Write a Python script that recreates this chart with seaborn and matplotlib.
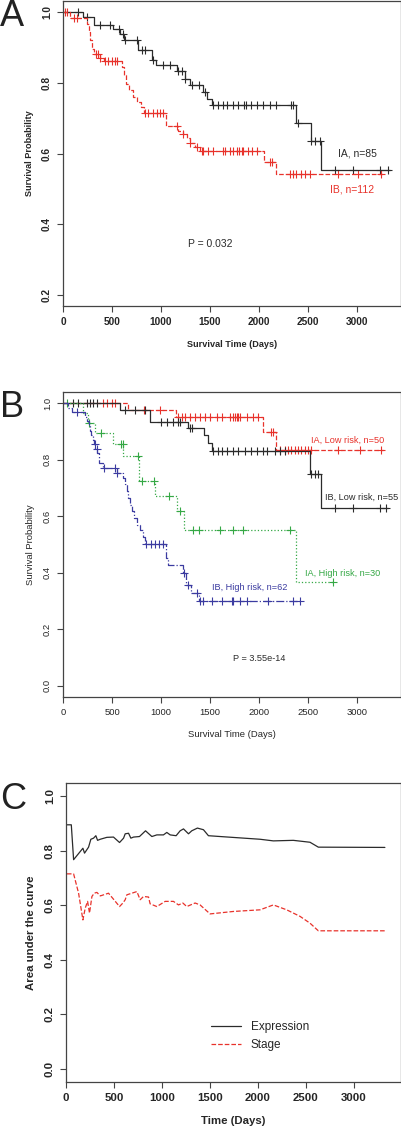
import numpy as np
import matplotlib
matplotlib.use("Agg")
import matplotlib.pyplot as plt
import seaborn as sns

sns.set_style("ticks")
plt.rcParams["font.family"] = ["Liberation Sans", "DejaVu Sans"]

RED = "#e8322b"
BLACK = "#2b2b2b"
GREEN = "#35a845"
BLUE = "#3b3ba0"

#%% Panel A: stage IA vs IB
a_ia_ev_t = [207, 320, 514, 582, 626, 769, 905, 949, 1160, 1245, 1296, 1432, 1473, 1517, 2384, 2530, 2632]
a_ia_ev_s = [0.988, 0.965, 0.954, 0.939, 0.922, 0.894, 0.864, 0.850, 0.833, 0.812, 0.793, 0.774, 0.755, 0.738, 0.686, 0.635, 0.554]
a_ia_end = 3336
a_ia_cens = [150, 248, 378, 480, 575, 609, 633, 752, 803, 837, 922, 1024, 1092, 1177, 1211, 1245, 1313, 1391,
             1449, 1534, 1585, 1629, 1670, 1738, 1789, 1850, 1867, 1915, 1976, 2044, 2112, 2180, 2333, 2350,
             2401, 2537, 2571, 2622, 2775, 2962, 3234, 3319]

a_ib_ev_t = [71, 248, 262, 276, 296, 320, 377, 418, 599, 622, 643, 677, 718, 758, 792, 826, 1048, 1177, 1228,
             1262, 1296, 1347, 1398, 2051, 2180]
a_ib_ev_s = [0.984, 0.968, 0.944, 0.921, 0.897, 0.883, 0.871, 0.861, 0.845, 0.824, 0.798, 0.779, 0.760, 0.746,
             0.731, 0.714, 0.679, 0.665, 0.656, 0.644, 0.629, 0.618, 0.607, 0.577, 0.541]
a_ib_end = 3268
a_ib_cens = [20, 37, 112, 139, 337, 360, 378, 429, 463, 497, 531, 554, 837, 871, 922, 956, 990, 1024, 1160,
             1228, 1296, 1364, 1415, 1432, 1483, 1534, 1636, 1653, 1704, 1738, 1779, 1799, 1823, 1840, 1891,
             1925, 1976, 2112, 2139, 2316, 2350, 2384, 2435, 2469, 2520, 2809, 3013, 3251]

#%% Panel B: stage x risk
b_ial_ev_t = [660, 1153, 2044, 2180]
b_ial_ev_s = [0.978, 0.953, 0.900, 0.835]
b_ial_end = 3268
b_ial_cens = [412, 446, 497, 531, 830, 990, 1177, 1211, 1245, 1296, 1347, 1398, 1449, 1500, 1568, 1619, 1704,
              1738, 1755, 1772, 1789, 1806, 1874, 1942, 1993, 2129, 2146, 2214, 2265, 2299, 2333, 2367, 2401,
              2435, 2469, 2503, 2537, 2809, 3030, 3251]

b_ibl_ev_t = [583, 889, 1281, 1441, 1485, 1519, 2524, 2637]
b_ibl_ev_s = [0.978, 0.935, 0.912, 0.888, 0.859, 0.832, 0.751, 0.629]
b_ibl_end = 3319
b_ibl_cens = [105, 156, 248, 275, 310, 343, 633, 735, 837, 1000, 1058, 1126, 1177, 1194, 1296, 1313, 1534,
              1585, 1619, 1670, 1738, 1789, 1857, 1915, 1976, 2044, 2078, 2163, 2214, 2265, 2537, 2571, 2605,
              2775, 2962, 3234, 3302]

b_iah_ev_t = [207, 258, 327, 514, 616, 779, 939, 1160, 1235, 2384]
b_iah_ev_s = [0.965, 0.929, 0.894, 0.856, 0.812, 0.724, 0.673, 0.618, 0.553, 0.366]
b_iah_end = 2758
b_iah_cens = [37, 262, 388, 588, 609, 762, 803, 929, 1085, 1194, 1330, 1391, 1599, 1738, 1840, 2316, 2755]

b_ibh_ev_t = [54, 88, 224, 248, 262, 275, 289, 303, 316, 330, 344, 364, 412, 548, 609, 633, 650, 667, 684,
              701, 724, 752, 786, 813, 837, 1051, 1075, 1221, 1255, 1303, 1391]
b_ibh_ev_s = [0.984, 0.968, 0.952, 0.936, 0.919, 0.903, 0.887, 0.871, 0.855, 0.839, 0.823, 0.790, 0.770, 0.753,
              0.735, 0.714, 0.690, 0.666, 0.640, 0.617, 0.594, 0.570, 0.550, 0.525, 0.503, 0.452, 0.428, 0.400,
              0.356, 0.330, 0.301]
b_ibh_end = 2435
b_ibh_cens = [139, 326, 343, 422, 531, 554, 850, 894, 939, 983, 1024, 1238, 1272, 1364, 1398, 1432, 1524, 1619,
              1721, 1738, 1806, 1881, 2095, 2350, 2418]

#%% Panel C: time-dependent AUC
c_expr_t = [10, 56, 80, 177, 194, 236, 260, 288, 312, 330, 358, 427, 496, 559, 601, 618, 653, 677, 705, 767,
            830, 896, 948, 1017, 1052, 1087, 1149, 1191, 1226, 1278, 1312, 1371, 1434, 1486, 1608, 1816, 2024,
            2163, 2371, 2545, 2632, 3326]
c_expr_auc = [0.896, 0.896, 0.768, 0.810, 0.792, 0.814, 0.843, 0.847, 0.856, 0.839, 0.843, 0.850, 0.851, 0.831,
              0.847, 0.863, 0.865, 0.847, 0.851, 0.853, 0.874, 0.853, 0.859, 0.859, 0.868, 0.859, 0.856, 0.874,
              0.881, 0.863, 0.874, 0.884, 0.878, 0.856, 0.853, 0.848, 0.843, 0.837, 0.839, 0.832, 0.814, 0.813]
c_stage_t = [10, 80, 132, 177, 201, 226, 246, 271, 295, 323, 358, 444, 496, 559, 594, 618, 635, 687, 740, 774,
             809, 861, 878, 948, 1035, 1121, 1174, 1219, 1260, 1347, 1399, 1503, 1746, 2024, 2163, 2302, 2441,
             2545, 2632, 3326]
c_stage_auc = [0.716, 0.716, 0.645, 0.547, 0.590, 0.615, 0.572, 0.633, 0.645, 0.648, 0.635, 0.645, 0.623, 0.596,
               0.609, 0.621, 0.639, 0.645, 0.651, 0.621, 0.633, 0.631, 0.606, 0.596, 0.615, 0.615, 0.602, 0.609,
               0.596, 0.609, 0.602, 0.569, 0.578, 0.584, 0.602, 0.584, 0.560, 0.535, 0.507, 0.507]

x_ticks = [0, 500, 1000, 1500, 2000, 2500, 3000]


#%%
def km_curve(ax, ev_t, ev_s, end_t, cens_t, color, ls):
    t = [0] + ev_t + [end_t]
    s = [1.0] + ev_s + [ev_s[-1]]
    sns.lineplot(x=t, y=s, drawstyle="steps-post", color=color, linestyle=ls, lw=0.9,
                 estimator=None, sort=False, ax=ax)
    idx = np.searchsorted(ev_t, cens_t, side="right")
    cy = np.r_[1.0, ev_s][idx]
    sns.scatterplot(x=cens_t, y=cy, marker="+", s=30, color=color, linewidth=0.8, ax=ax)


def style_axes(ax, yticks, ylim, xlim, xlabel, ylabel, weight, fs, lfs):
    ax.set_xlim(*xlim)
    ax.set_ylim(*ylim)
    ax.set_xticks(x_ticks)
    ax.set_yticks(yticks)
    ax.set_xticklabels([str(v) for v in x_ticks], fontsize=fs, fontweight=weight)
    ax.set_yticklabels([f"{v:.1f}" for v in yticks], fontsize=fs, fontweight=weight,
                       rotation=90, va="center")
    ax.tick_params(length=4, width=0.8, color="#444444", pad=4)
    for sp in ax.spines.values():
        sp.set_visible(True)
        sp.set_color("#444444")
        sp.set_linewidth(0.9)
    ax.set_xlabel(xlabel, fontsize=lfs, fontweight=weight, labelpad=9)
    ax.set_ylabel(ylabel, fontsize=lfs, fontweight=weight, labelpad=6)


fig = plt.figure(figsize=(4.02, 11.29), dpi=100)

#%% A
axA = fig.add_axes([0.157, 0.729, 0.840, 0.270])
km_curve(axA, a_ia_ev_t, a_ia_ev_s, a_ia_end, a_ia_cens, BLACK, "-")
km_curve(axA, a_ib_ev_t, a_ib_ev_s, a_ib_end, a_ib_cens, RED, "--")
style_axes(axA, [0.2, 0.4, 0.6, 0.8, 1.0], (0.168, 1.032), (0, 3450),
           "Survival Time (Days)", "Survival Probability", "bold", 7.3, 6.6)
axA.text(3005, 0.600, "IA, n=85", color=BLACK, fontsize=7.5, ha="center", va="center")
axA.text(2950, 0.497, "IB, n=112", color=RED, fontsize=7.5, ha="center", va="center")
axA.text(1503, 0.345, "P = 0.032", color=BLACK, fontsize=7.5, ha="center", va="center")

#%% B
axB = fig.add_axes([0.157, 0.3826, 0.840, 0.2702])
km_curve(axB, b_ial_ev_t, b_ial_ev_s, b_ial_end, b_ial_cens, RED, "--")
km_curve(axB, b_ibl_ev_t, b_ibl_ev_s, b_ibl_end, b_ibl_cens, BLACK, "-")
km_curve(axB, b_iah_ev_t, b_iah_ev_s, b_iah_end, b_iah_cens, GREEN, ":")
km_curve(axB, b_ibh_ev_t, b_ibh_ev_s, b_ibh_end, b_ibh_cens, BLUE, "-.")
style_axes(axB, [0.0, 0.2, 0.4, 0.6, 0.8, 1.0], (-0.04, 1.04), (0, 3450),
           "Survival Time (Days)", "Survival Probability", "normal", 6.8, 6.8)
axB.text(2907, 0.868, "IA, Low risk, n=50", color=RED, fontsize=6.6, ha="center", va="center")
axB.text(3045, 0.668, "IB, Low risk, n=55", color=BLACK, fontsize=6.6, ha="center", va="center")
axB.text(2858, 0.398, "IA, High risk, n=30", color=GREEN, fontsize=6.6, ha="center", va="center")
axB.text(1908, 0.347, "IB, High risk, n=62", color=BLUE, fontsize=6.6, ha="center", va="center")
axB.text(2006, 0.095, "P = 3.55e-14", color=BLACK, fontsize=6.6, ha="center", va="center")

#%% C
axC = fig.add_axes([0.164, 0.0416, 0.834, 0.265])
sns.lineplot(x=c_expr_t, y=c_expr_auc, color=BLACK, lw=0.9, linestyle="-", estimator=None,
             sort=False, label="Expression", ax=axC)
sns.lineplot(x=c_stage_t, y=c_stage_auc, color=RED, lw=0.9, linestyle="--", estimator=None,
             sort=False, label="Stage", ax=axC)
style_axes(axC, [0.0, 0.2, 0.4, 0.6, 0.8, 1.0], (-0.048, 1.05), (0, 3496),
           "Time (Days)", "Area under the curve", "bold", 8.2, 8.2)
axC.legend(loc="upper left", bbox_to_anchor=(0.40, 0.24), frameon=False, fontsize=8.5,
           handlelength=2.6, labelspacing=0.5)

#%% panel letters
for lab, y in [("A", 0.985), ("B", 0.639), ("C", 0.292)]:
    fig.text(0.0, y, lab, fontsize=26, ha="left", va="center", color="#222222")

plt.savefig("out.png", dpi=100)
